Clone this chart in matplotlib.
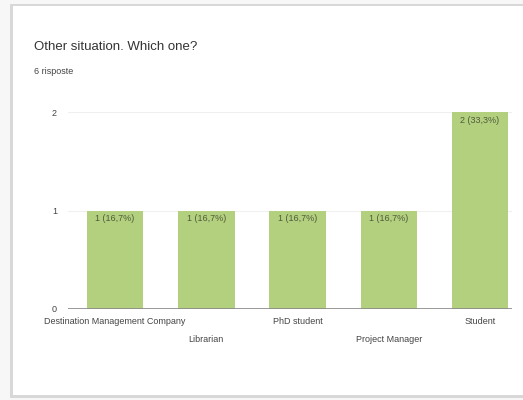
import matplotlib
matplotlib.use('Agg')
import matplotlib.pyplot as plt
from matplotlib.patches import Rectangle

categories = ['Destination Management Company', 'Librarian', 'PhD student',
              'Project Manager', 'Student']
counts = [1, 1, 1, 1, 2]
labels = ['1 (16,7%)', '1 (16,7%)', '1 (16,7%)', '1 (16,7%)', '2 (33,3%)']
title = 'Other situation. Which one?'
subtitle = '6 risposte'

plt.rcParams['font.family'] = ['Liberation Sans', 'DejaVu Sans']

W, H = 523, 400
fig = plt.figure(figsize=(W / 100, H / 100), dpi=100)
fig.patch.set_facecolor('#f7f7f7')

# card with a soft shadow
fig.patches.append(Rectangle((10 / W, 1 - 398 / H), 520 / W, 394 / H,
                             transform=fig.transFigure, facecolor='#d8d8d8',
                             edgecolor='none', zorder=-2))
fig.patches.append(Rectangle((13 / W, 1 - 395 / H), 515 / W, 389 / H,
                             transform=fig.transFigure, facecolor='white',
                             edgecolor='none', zorder=-1))

fig.text(34 / W, 1 - 47 / H, title, fontsize=9.5, color='#333333', va='center')
fig.text(34 / W, 1 - 71 / H, subtitle, fontsize=6.5, color='#444444', va='center')

ax = fig.add_axes([68 / W, 1 - 309 / H, (512 - 68) / W, (309 - 112) / H])
ax.set_zorder(2)
ax.set_facecolor('none')
x = list(range(len(categories)))
bars = ax.bar(x, counts, width=0.62, color='#b3d07e', zorder=2)
for b, lab in zip(bars, labels):
    ax.text(b.get_x() + b.get_width() / 2, b.get_height() - 0.04, lab,
            ha='center', va='top', fontsize=6.5, color='#4f5a3c', zorder=3)

ax.set_xlim(-0.515, 4.35)
ax.set_ylim(0, 2)
ax.set_yticks([0, 1, 2])
ax.set_yticklabels(['0', '1', '2'])
for v in [1, 2]:
    ax.axhline(v, color='#f0f0f0', lw=0.8, zorder=1)
ax.axhline(0, color='#888888', lw=1.2, zorder=3)

ax.set_xticks(x)
ax.set_xticklabels([c if i % 2 == 0 else '\n' + c for i, c in enumerate(categories)],
                   fontsize=6.5, color='#333333', linespacing=2.2)
ax.tick_params(axis='both', length=0, pad=6, labelsize=6.5, colors='#444444')
ax.tick_params(axis='y', pad=8)
for s in ax.spines.values():
    s.set_visible(False)

fig.savefig('out.png', dpi=100)
